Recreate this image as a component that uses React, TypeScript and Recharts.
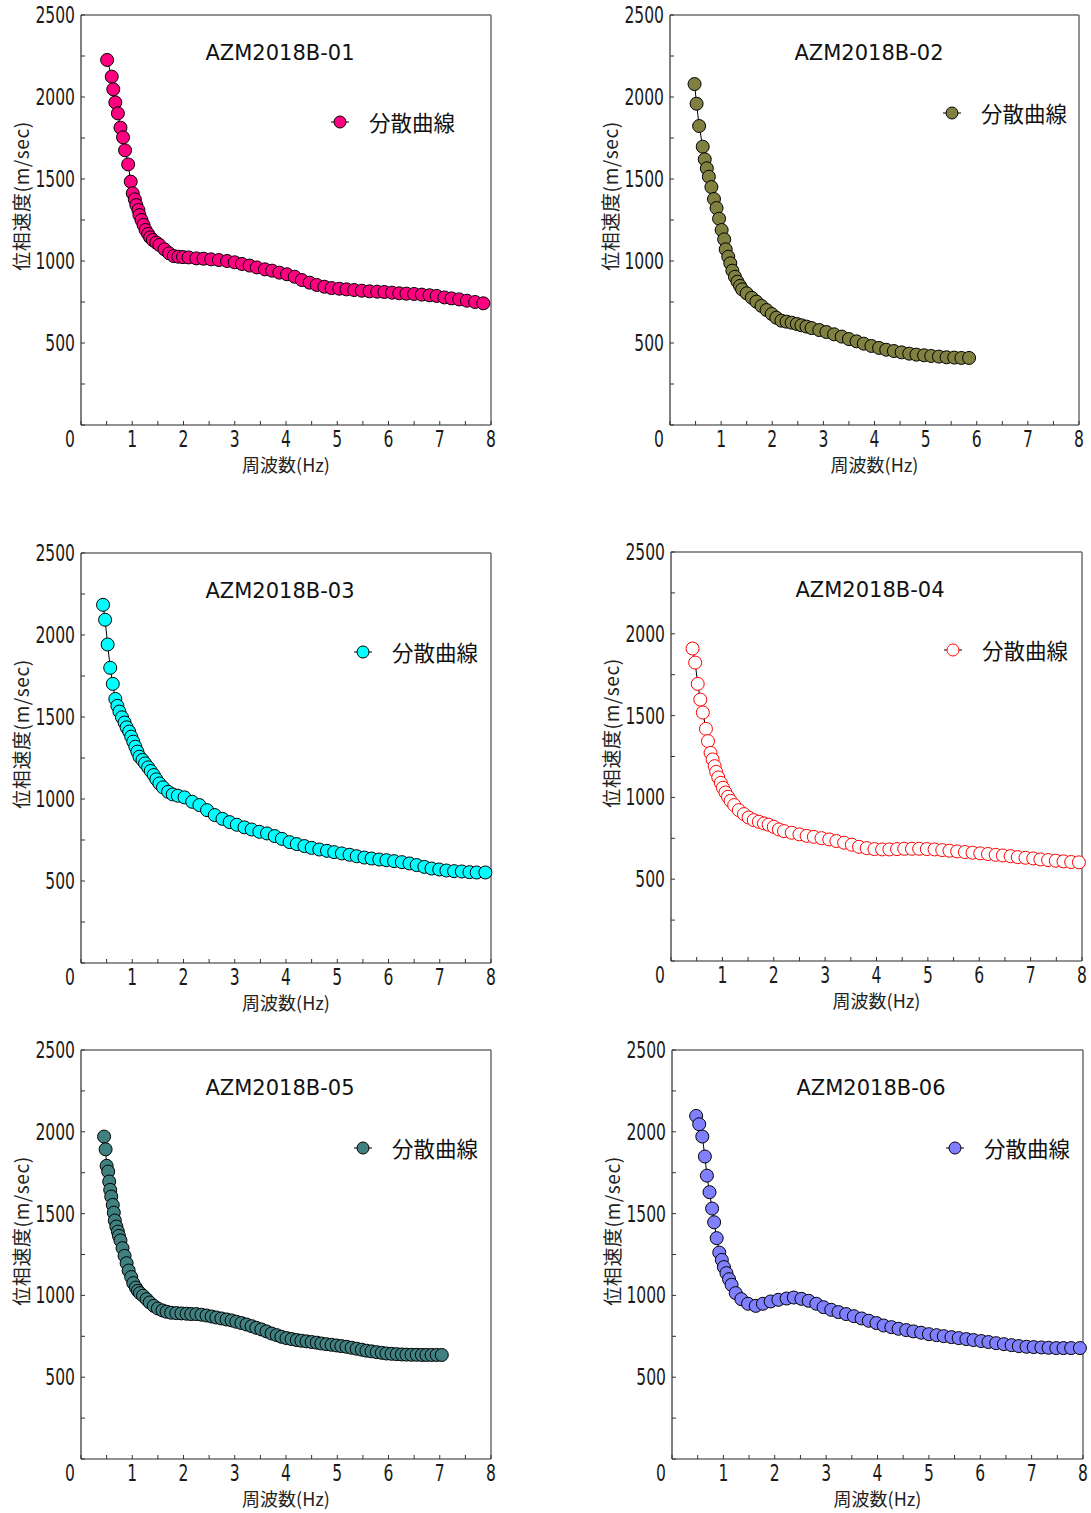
import React from "react";
import { ScatterChart, Scatter, XAxis, YAxis, Legend, Label } from "recharts";

// --- data ---
const titles = ["AZM2018B-01", "AZM2018B-02", "AZM2018B-03", "AZM2018B-04", "AZM2018B-05", "AZM2018B-06"];
const seriesName = "分散曲線";
const xTitle = "周波数(Hz)";
const yTitle = "位相速度(m/sec)";

const xTicks = [0, 0.5, 1, 1.5, 2, 2.5, 3, 3.5, 4, 4.5, 5, 5.5, 6, 6.5, 7, 7.5, 8];
const yTicks = [0, 250, 500, 750, 1000, 1250, 1500, 1750, 2000, 2250, 2500];

const freq01 = [0.51,0.60,0.63,0.67,0.72,0.77,0.82,0.86,0.92,0.97,1.01,1.05,1.08,1.12,1.14,1.18,1.22,1.26,1.31,1.35,1.40,1.47,1.53,1.63,1.72,1.81,1.90,1.99,2.10,2.25,2.39,2.54,2.69,2.85,3.00,3.14,3.29,3.43,3.59,3.73,3.87,4.02,4.17,4.31,4.46,4.60,4.75,4.89,5.04,5.18,5.33,5.48,5.63,5.78,5.92,6.07,6.21,6.35,6.50,6.65,6.80,6.94,7.09,7.23,7.38,7.53,7.69,7.85];
const vel01 = [2226,2124,2047,1967,1900,1813,1754,1675,1589,1484,1413,1376,1341,1311,1280,1250,1220,1189,1165,1144,1128,1112,1098,1071,1047,1030,1026,1024,1022,1016,1014,1010,1006,1000,992,982,972,961,949,941,929,919,904,884,868,854,843,835,831,827,823,819,815,813,811,807,803,801,799,795,791,787,778,772,766,758,750,742];

const freq02 = [0.48,0.52,0.57,0.64,0.68,0.72,0.76,0.81,0.86,0.91,0.96,1.01,1.06,1.09,1.14,1.18,1.22,1.27,1.32,1.37,1.41,1.50,1.60,1.69,1.79,1.89,1.99,2.08,2.18,2.28,2.38,2.48,2.57,2.67,2.77,2.92,3.06,3.21,3.36,3.50,3.65,3.79,3.94,4.09,4.23,4.38,4.53,4.68,4.82,4.97,5.11,5.26,5.41,5.56,5.70,5.85];
const vel02 = [2079,1959,1823,1697,1620,1565,1514,1451,1378,1323,1258,1189,1132,1071,1026,986,941,904,874,848,827,803,776,752,726,701,677,654,636,630,624,616,608,600,591,579,567,553,539,524,510,496,482,470,459,451,443,435,429,425,421,417,413,411,409,409];

const freq03 = [0.43,0.47,0.52,0.57,0.62,0.67,0.71,0.75,0.80,0.85,0.89,0.94,0.98,1.02,1.06,1.10,1.14,1.20,1.25,1.31,1.36,1.42,1.47,1.53,1.60,1.70,1.79,1.89,2.02,2.17,2.31,2.46,2.61,2.76,2.90,3.04,3.19,3.33,3.48,3.63,3.78,3.92,4.07,4.21,4.36,4.50,4.65,4.80,4.94,5.09,5.24,5.38,5.53,5.67,5.82,5.96,6.11,6.26,6.41,6.55,6.70,6.84,6.99,7.13,7.28,7.43,7.58,7.72,7.89];
const vel03 = [2184,2093,1942,1800,1702,1610,1568,1533,1498,1466,1437,1411,1380,1350,1319,1289,1258,1238,1217,1193,1171,1146,1120,1095,1071,1044,1028,1020,1010,983,963,932,902,879,859,843,827,814,800,790,774,757,737,725,713,702,692,684,676,668,660,651,643,637,631,627,621,615,607,597,586,576,570,564,560,558,554,552,552];

const freq04 = [0.42,0.47,0.52,0.57,0.62,0.68,0.72,0.77,0.81,0.85,0.88,0.92,0.97,1.01,1.06,1.11,1.16,1.23,1.32,1.42,1.51,1.61,1.71,1.81,1.90,2.00,2.10,2.20,2.35,2.50,2.64,2.78,2.93,3.08,3.22,3.37,3.52,3.66,3.81,3.96,4.11,4.25,4.40,4.54,4.69,4.83,4.98,5.13,5.28,5.42,5.57,5.72,5.87,6.02,6.17,6.32,6.46,6.61,6.75,6.90,7.05,7.19,7.34,7.49,7.64,7.79,7.94];
const vel04 = [1910,1824,1694,1598,1519,1419,1344,1272,1232,1191,1156,1122,1089,1059,1030,1004,979,953,922,898,877,861,851,841,833,820,804,794,784,774,765,759,751,743,733,723,711,698,690,684,682,682,684,686,686,686,684,682,678,674,670,666,662,658,654,649,645,641,635,631,627,621,617,613,609,605,603];

const freq05 = [0.45,0.48,0.50,0.53,0.55,0.57,0.59,0.62,0.64,0.66,0.69,0.72,0.74,0.77,0.81,0.85,0.89,0.93,0.98,1.02,1.07,1.11,1.15,1.21,1.28,1.34,1.42,1.50,1.59,1.67,1.76,1.86,1.96,2.06,2.15,2.25,2.35,2.45,2.55,2.64,2.74,2.84,2.94,3.03,3.13,3.23,3.33,3.42,3.52,3.62,3.72,3.82,3.91,4.01,4.11,4.21,4.30,4.40,4.50,4.60,4.69,4.79,4.89,4.99,5.08,5.18,5.28,5.38,5.48,5.57,5.67,5.77,5.87,5.96,6.06,6.16,6.26,6.35,6.45,6.55,6.65,6.74,6.84,6.94,7.04];
const vel05 = [1971,1893,1792,1757,1696,1645,1604,1553,1506,1458,1421,1390,1364,1336,1289,1242,1197,1152,1112,1075,1048,1028,1014,998,977,957,936,920,908,900,894,892,890,888,886,886,882,877,871,865,859,853,847,839,831,822,812,802,792,780,767,757,747,739,733,727,723,719,715,711,706,702,698,694,690,686,680,674,668,662,658,653,649,645,643,641,639,638,637,637,636,636,636,636,636];

const freq06 = [0.47,0.53,0.59,0.64,0.68,0.73,0.78,0.82,0.87,0.92,0.97,1.01,1.06,1.11,1.16,1.24,1.35,1.48,1.63,1.77,1.92,2.07,2.23,2.37,2.52,2.66,2.81,2.95,3.10,3.24,3.39,3.54,3.69,3.83,3.98,4.12,4.27,4.41,4.56,4.70,4.85,5.00,5.15,5.29,5.44,5.58,5.73,5.87,6.02,6.16,6.31,6.46,6.61,6.75,6.90,7.04,7.19,7.33,7.48,7.62,7.77,7.94];
const vel06 = [2097,2046,1971,1849,1732,1631,1531,1447,1350,1262,1217,1173,1136,1099,1065,1014,977,949,936,949,963,973,981,987,979,967,949,928,912,898,886,873,859,845,831,816,806,796,788,780,772,763,757,751,745,739,733,727,721,715,708,702,696,690,686,684,682,680,678,678,678,678];

const FONT_NUM = '"Liberation Sans Narrow", "DejaVu Sans Condensed", "Liberation Sans", sans-serif';
const FONT_JP = '"Noto Sans CJK JP", "Noto Sans", sans-serif';
const FONT_TITLE = '"DejaVu Sans", "Noto Sans", sans-serif';

// where each plot box sits on the page, and its colours
const panels = [
  { title: titles[0], freq: freq01, vel: vel01, fill: "#ff0080", stroke: "#000", left: 81, top: 15, pw: 410, ph: 410, lx: 259, ly: 107 },
  { title: titles[1], freq: freq02, vel: vel02, fill: "#808040", stroke: "#000", left: 670, top: 15, pw: 409, ph: 410, lx: 282, ly: 98 },
  { title: titles[2], freq: freq03, vel: vel03, fill: "#00ffff", stroke: "#000", left: 81, top: 553, pw: 410, ph: 410, lx: 282, ly: 99 },
  { title: titles[3], freq: freq04, vel: vel04, fill: "#ffffff", stroke: "#ff0000", left: 671, top: 552, pw: 411, ph: 409, lx: 282, ly: 98 },
  { title: titles[4], freq: freq05, vel: vel05, fill: "#408080", stroke: "#000", left: 81, top: 1050, pw: 410, ph: 409, lx: 282, ly: 98 },
  { title: titles[5], freq: freq06, vel: vel06, fill: "#8080ff", stroke: "#000", left: 672, top: 1050, pw: 411, ph: 409, lx: 283, ly: 98 },
];

const ML = 80; // plot left inside the svg
const MT = 15; // plot top inside the svg
const DIGIT_W = 9.9;

const NumText = ({ x, y, v, anchor }: { x: number; y: number; v: number; anchor: "middle" | "end" }) => (
  <text
    x={x}
    y={y}
    textAnchor={anchor}
    fontFamily={FONT_NUM}
    fontSize={22.5}
    fill="#1a1a1a"
    textLength={String(v).length * DIGIT_W}
    lengthAdjust="spacingAndGlyphs"
  >
    {v}
  </text>
);

const BottomTick = (props: any) => {
  const { x, y, payload } = props;
  const v = payload.value;
  return (
    <g>
      <line x1={x} x2={x} y1={y} y2={y - 4} stroke="#333" />
      {Number.isInteger(v) && <NumText x={v === 0 ? x - 11 : x} y={y + 21.5} v={v} anchor="middle" />}
    </g>
  );
};

const TopTick = (props: any) => {
  const { x, y } = props;
  return <line x1={x} x2={x} y1={y} y2={y + 4} stroke="#333" />;
};

const LeftTick = (props: any) => {
  const { x, y, payload } = props;
  const v = payload.value;
  return (
    <g>
      <line x1={x} x2={x + 4} y1={y} y2={y} stroke="#333" />
      {v % 500 === 0 && v !== 0 && <NumText x={x - 6} y={y + 8} v={v} anchor="end" />}
    </g>
  );
};

const RightTick = (props: any) => {
  const { x, y } = props;
  return <line x1={x} x2={x - 4} y1={y} y2={y} stroke="#333" />;
};

function LegendBox({ fill, stroke }: { fill: string; stroke: string }) {
  return (
    <div style={{ display: "flex", alignItems: "center", height: 24, whiteSpace: "nowrap" }}>
      <svg width={20} height={24} style={{ display: "block" }}>
        <line x1={1} x2={19} y1={12} y2={12} stroke="#000" />
        <circle cx={10} cy={12} r={6} fill={fill} stroke={stroke} />
      </svg>
      <span style={{ marginLeft: 19, fontFamily: FONT_JP, fontSize: 21.5, lineHeight: "24px", color: "#111" }}>
        {seriesName}
      </span>
    </div>
  );
}

function Panel({ p }: { p: (typeof panels)[number] }) {
  const data = p.freq.map((f, i) => ({ f, v: p.vel[i] }));
  const W = p.pw + ML + 20;
  const H = p.ph + 75;

  return (
    <div style={{ position: "absolute", left: p.left - ML, top: p.top - MT }}>
      <ScatterChart width={W} height={H} margin={{ top: MT - 1, right: 19, bottom: 30, left: ML - 60 }}>
        <XAxis
          xAxisId="top"
          orientation="top"
          type="number"
          dataKey="f"
          domain={[0, 8]}
          ticks={xTicks}
          interval={0}
          height={1}
          tickSize={0}
          tickMargin={0}
          tick={<TopTick />}
          axisLine={{ stroke: "#6e6e6e", strokeWidth: 1.5 }}
        />
        <XAxis
          type="number"
          dataKey="f"
          domain={[0, 8]}
          ticks={xTicks}
          interval={0}
          height={30}
          tickSize={0}
          tickMargin={0}
          tick={<BottomTick />}
          axisLine={{ stroke: "#6e6e6e", strokeWidth: 1.5 }}
        >
          <Label
            content={() => (
              <text x={ML + p.pw / 2} y={MT + p.ph + 47} textAnchor="middle" fontFamily={FONT_JP} fontSize={18} fill="#222">
                {xTitle}
              </text>
            )}
          />
          <Label
            content={() => (
              <text x={ML + 199} y={MT + 37 + 7.5} textAnchor="middle" fontFamily={FONT_TITLE} fontSize={21} fill="#111">
                {p.title}
              </text>
            )}
          />
        </XAxis>
        <YAxis
          type="number"
          dataKey="v"
          domain={[0, 2500]}
          ticks={yTicks}
          interval={0}
          width={60}
          tickSize={0}
          tickMargin={0}
          tick={<LeftTick />}
          axisLine={{ stroke: "#000" }}
        >
          <Label
            content={() => (
              <text
                x={ML - 61}
                y={MT + 181}
                transform={`rotate(-90 ${ML - 61} ${MT + 181})`}
                textAnchor="middle"
                dominantBaseline="central"
                fontFamily={FONT_JP}
                fontSize={19}
                letterSpacing={0.6}
                fill="#222"
              >
                {yTitle}
              </text>
            )}
          />
        </YAxis>
        <YAxis
          yAxisId="right"
          orientation="right"
          type="number"
          dataKey="v"
          domain={[0, 2500]}
          ticks={yTicks}
          interval={0}
          width={1}
          tickSize={0}
          tickMargin={0}
          tick={<RightTick />}
          axisLine={{ stroke: "#6e6e6e", strokeWidth: 1.5 }}
        />
        <Legend
          layout="vertical"
          align="center"
          verticalAlign="middle"
          wrapperStyle={{ left: ML + p.lx - 10, top: MT + p.ly - 12, width: "auto" }}
          content={() => <LegendBox fill={p.fill} stroke={p.stroke} />}
        />
        <Scatter
          name={seriesName}
          data={data}
          line={{ stroke: "#000", strokeWidth: 1 }}
          lineType="joint"
          isAnimationActive={false}
          shape={(s: any) => <circle cx={s.cx} cy={s.cy} r={6.5} fill={p.fill} stroke={p.stroke} strokeWidth={1} />}
        />
      </ScatterChart>
    </div>
  );
}

export default function App() {
  return (
    <div style={{ position: "absolute", left: 0, top: 0, width: 1091, height: 1513, background: "#fff" }}>
      {panels.map((p) => (
        <Panel key={p.title} p={p} />
      ))}
    </div>
  );
}
